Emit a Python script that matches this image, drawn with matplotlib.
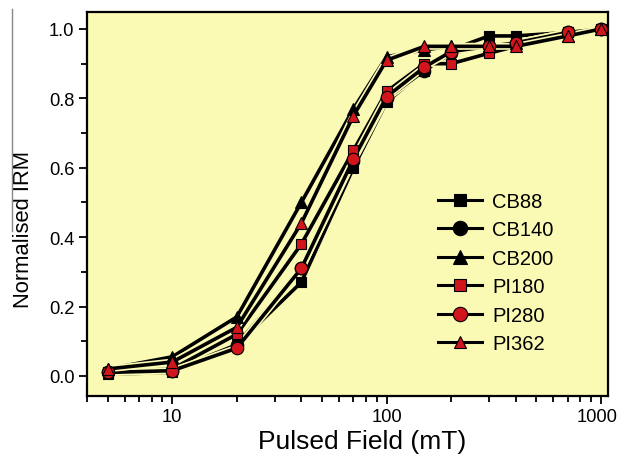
import matplotlib
matplotlib.use("Agg")
import matplotlib.pyplot as plt
import matplotlib.patheffects as pe
import matplotlib.transforms as mtrans
from matplotlib.ticker import LogLocator, MultipleLocator, FixedLocator, FixedFormatter, NullFormatter
from matplotlib.lines import Line2D

plt.rcParams['font.family'] = ['Liberation Sans', 'DejaVu Sans']

field = [5, 10, 20, 40, 70, 100, 150, 200, 300, 400, 700, 1000]
cb88  = [0.005, 0.01, 0.09, 0.27, 0.60, 0.79, 0.88, 0.94, 0.98, 0.98, 0.99, 1.0]
cb140 = [0.01, 0.015, 0.09, 0.31, 0.62, 0.80, 0.88, 0.93, 0.95, 0.96, 0.99, 1.0]
cb200 = [0.02, 0.055, 0.17, 0.50, 0.77, 0.92, 0.94, 0.95, 0.95, 0.96, 0.98, 1.0]
pi180 = [0.01, 0.02, 0.12, 0.38, 0.65, 0.82, 0.90, 0.90, 0.93, 0.95, 0.99, 1.0]
pi280 = [0.01, 0.015, 0.08, 0.31, 0.625, 0.805, 0.89, 0.935, 0.95, 0.96, 0.99, 1.0]
pi362 = [0.02, 0.04, 0.14, 0.44, 0.75, 0.91, 0.95, 0.95, 0.95, 0.95, 0.98, 1.0]

names = ['CB88', 'CB140', 'CB200', 'PI180', 'PI280', 'PI362']
series = [cb88, cb140, cb200, pi180, pi280, pi362]
markers = ['s', 'o', '^', 's', 'o', '^']
colors = ['black', 'black', 'black', '#d0151c', '#d0151c', '#d0151c']
msizes = [7, 9, 9, 7, 9, 8]
xticks = [10, 100, 1000]
xticklabels = ['10', '100', '1000']

bg = '#fafab4'

fig = plt.figure(figsize=(6.19, 4.56), dpi=100)
ax = fig.add_axes([87/619, 1-397/456, (608-87)/619, (397-13)/456])
ax.set_facecolor(bg)

for name, ys, m, c, ms in zip(names, series, markers, colors, msizes):
    ax.plot(field, ys, '-', color='black', lw=2.6, zorder=2,
            path_effects=[pe.Stroke(linewidth=5, foreground=bg), pe.Normal()])
for name, ys, m, c, ms in zip(names, series, markers, colors, msizes):
    ax.plot(field, ys, linestyle='none', marker=m, ms=ms, mfc=c, mec='black',
            mew=0.8, zorder=3)

handles = [Line2D([], [], color='black', lw=2.2, marker=m, ms=ms*1.15, mfc=c, mec='black', mew=0.8)
           for m, c, ms in zip(markers, colors, msizes)]
leg = ax.legend(handles, names, loc='center left',
                bbox_to_anchor=((438-87)/521, (397-273.5)/384),
                frameon=False, fontsize=14.5, handlelength=2.2, handletextpad=0.5,
                labelspacing=0.47, borderaxespad=0, borderpad=0)

ax.set_xscale('log')
ax.set_xlim(4, 1078)
ax.set_ylim(-0.058, 1.049)
ax.xaxis.set_major_locator(FixedLocator(xticks))
ax.xaxis.set_major_formatter(FixedFormatter(xticklabels))
ax.xaxis.set_minor_locator(LogLocator(base=10, subs=range(2, 10)))
ax.xaxis.set_minor_formatter(NullFormatter())
ax.yaxis.set_major_locator(MultipleLocator(0.2))
ax.yaxis.set_minor_locator(MultipleLocator(0.1))
ax.yaxis.set_major_formatter(matplotlib.ticker.FormatStrFormatter('%.1f'))

ax.tick_params(which='major', direction='out', length=6, width=1.3, labelsize=13.2, pad=3)
ax.tick_params(which='minor', direction='out', length=4, width=1.3)
for s in ax.spines.values():
    s.set_linewidth(1.6)

ax.set_xlabel('Pulsed Field (mT)', fontsize=19, labelpad=1)
ax.xaxis.set_label_coords((362-87)/521, -0.085, transform=ax.transAxes)
ax.xaxis.label.set_va('top')
ax.set_ylabel('Normalised IRM', fontsize=15.8)
ax.yaxis.label.set_va('center')
ax.yaxis.set_label_coords((23.5-87)/521, (397-230)/384, transform=ax.transAxes)

fig.canvas.draw()
last = ax.get_xticklabels()[-1]
last.set_transform(last.get_transform() + mtrans.ScaledTranslation(-4/100, 0, fig.dpi_scale_trans))

fig.add_artist(Line2D([12/619, 12/619], [1-10/456, 1-232/456], color='#888888', lw=1.0))

fig.savefig('out.png', dpi=100)
